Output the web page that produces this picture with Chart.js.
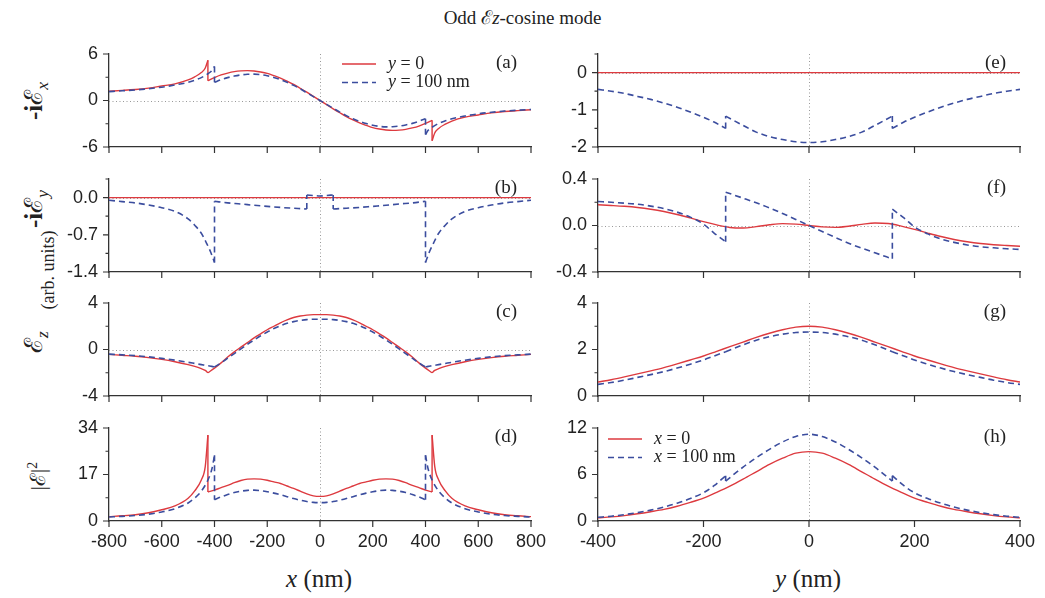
<!DOCTYPE html>
<html>
<head>
<meta charset="utf-8">
<script src="https://cdn.jsdelivr.net/npm/chart.js@4.4.1/dist/chart.umd.min.js"></script>
<style>
  body { margin: 0; background: #fff; }
  #page { position: relative; width: 1045px; height: 598px; overflow: hidden;
          font-family: 'Liberation Serif', 'Times New Roman', serif; color: #222; }
  canvas { position: absolute; }
  .txt { position: absolute; white-space: nowrap; text-align: center; }
  .rot { width: 120px; height: 30px; line-height: 30px; transform: rotate(-90deg); }
  sub { font-size: 70%; font-style: italic; }
</style>
</head>
<body>
<div id="page">
  <div class="txt" style="left:0;width:1045px;top:4px;font-size:19px;">Odd ℰ<i>z</i>-cosine mode</div>
  <div class="txt" style="left:219px;width:200px;top:565px;font-size:25px;"><i>x</i> (nm)</div>
  <div class="txt" style="left:708px;width:200px;top:565px;font-size:25px;"><i>y</i> (nm)</div>
  <div class="txt rot" style="left:-26px;top:86px;font-size:25px;"><b>-i</b>ℰ<sub>x</sub></div>
  <div class="txt rot" style="left:-26px;top:194px;font-size:25px;"><b>-i</b>ℰ<sub>y</sub></div>
  <div class="txt rot" style="left:-12px;top:255px;font-size:18px;">(arb. units)</div>
  <div class="txt rot" style="left:-26px;top:327px;font-size:25px;">ℰ<sub>z</sub></div>
  <div class="txt rot" style="left:-27px;top:461px;font-size:21px;">|ℰ|<sup style="font-size:65%">2</sup></div>
</div>
<script>
// x positions (nm), left column: red jumps at +-425, blue at +-400
const xLeftRed = [-800,-750,-700,-650,-600,-550,-500,-475,-450,-435,-425,
  -425,-400,-375,-350,-325,-300,-275,-250,-225,-200,-175,-150,-125,-100,-75,-50,-25,0,25,50,75,100,125,150,175,200,225,250,275,300,325,350,375,400,425,
  425,435,450,475,500,550,600,650,700,750,800];
const xLeftBlue = [-800,-750,-700,-650,-600,-550,-500,-475,-450,-425,-410,-400,
  -400,-375,-350,-325,-300,-275,-250,-225,-200,-175,-150,-125,-100,-75,-50,-25,0,25,50,75,100,125,150,175,200,225,250,275,300,325,350,375,400,
  400,410,425,450,475,500,550,600,650,700,750,800];
const xLeftBlueB = [-800,-750,-700,-650,-600,-550,-500,-475,-450,-430,-415,-400,
  -400,-350,-300,-250,-200,-150,-100,-50, -50,-25,0,25,50, 50,100,150,200,250,300,350,400,
  400,415,430,450,475,500,550,600,650,700,750,800];
const xLeftLine = [-800, 800];

// y positions (nm), right column: blue jumps at +-158
const yRightRed = [-400,-375,-350,-325,-300,-275,-250,-225,-200,-175,-150,-125,-100,-75,-50,-25,0,
  25,50,75,100,125,150,175,200,225,250,275,300,325,350,375,400];
const yRightBlue = [-400,-375,-350,-325,-300,-275,-250,-225,-200,-180,-158,
  -158,-125,-100,-75,-50,-25,0,25,50,75,100,125,158,
  158,180,200,225,250,275,300,325,350,375,400];
const yRightLine = [-400, 400];

// (a) -iEx
const aRed = [1.2,1.3,1.42,1.6,1.87,2.15,2.65,3.05,3.6,4.2,5.2,
  2.55,2.96,3.3,3.54,3.72,3.82,3.85,3.8,3.68,3.5,3.2,2.9,2.5,2.07,1.58,1.07,0.54,0,-0.54,-1.07,-1.58,-2.07,-2.5,-2.9,-3.2,-3.5,-3.68,-3.8,-3.85,-3.82,-3.72,-3.54,-3.3,-2.96,-2.55,
  -5.2,-4.2,-3.6,-3.05,-2.65,-2.15,-1.87,-1.6,-1.42,-1.3,-1.2];
const aBlue = [1.15,1.25,1.36,1.52,1.72,2.0,2.35,2.62,2.95,3.45,3.85,4.4,
  2.35,2.68,2.95,3.15,3.3,3.38,3.4,3.34,3.2,2.98,2.7,2.35,1.95,1.5,1.0,0.5,0,-0.5,-1.0,-1.5,-1.95,-2.35,-2.7,-2.98,-3.2,-3.34,-3.4,-3.38,-3.3,-3.15,-2.95,-2.68,-2.35,
  -4.4,-3.85,-3.45,-2.95,-2.62,-2.35,-2.0,-1.72,-1.52,-1.36,-1.25,-1.15];
// (b) -iEy
const bRed = [0, 0];
const bBlue = [-0.05,-0.075,-0.1,-0.14,-0.19,-0.26,-0.4,-0.52,-0.67,-0.86,-1.02,-1.22,
  -0.07,-0.1,-0.12,-0.145,-0.165,-0.185,-0.2,-0.215, 0.05,0.04,0.03,0.04,0.05,
  -0.215,-0.2,-0.185,-0.165,-0.145,-0.12,-0.1,-0.07,
  -1.22,-1.02,-0.86,-0.67,-0.52,-0.4,-0.26,-0.19,-0.14,-0.1,-0.075,-0.05];
// (c) Ez
const cRed = [-0.42,-0.5,-0.58,-0.7,-0.85,-1.05,-1.3,-1.45,-1.65,-1.8,-2.0,
  -2.0,-1.6,-1.15,-0.65,-0.2,0.2,0.6,1.0,1.35,1.7,2.0,2.3,2.55,2.75,2.88,2.96,3.0,3.0,3.0,2.96,2.88,2.75,2.55,2.3,2.0,1.7,1.35,1.0,0.6,0.2,-0.2,-0.65,-1.15,-1.6,-2.0,
  -2.0,-1.8,-1.65,-1.45,-1.3,-1.05,-0.85,-0.7,-0.58,-0.5,-0.42];
const cBlue = [-0.4,-0.46,-0.53,-0.63,-0.76,-0.92,-1.1,-1.2,-1.3,-1.4,-1.45,-1.5,
  -1.5,-1.15,-0.75,-0.35,0.05,0.45,0.82,1.18,1.5,1.8,2.05,2.25,2.4,2.5,2.57,2.6,2.6,2.6,2.57,2.5,2.4,2.25,2.05,1.8,1.5,1.18,0.82,0.45,0.05,-0.35,-0.75,-1.15,-1.5,
  -1.5,-1.45,-1.4,-1.3,-1.2,-1.1,-0.92,-0.76,-0.63,-0.53,-0.46,-0.4];
// (d) |E|^2
const dRed = [1.6,1.9,2.3,3.0,4.1,5.5,8.3,11,15,20,31.4,
  10.6,11.3,12.2,13.0,14.0,14.8,15.3,15.4,15.3,14.9,14.3,13.7,12.8,11.9,10.9,9.9,9.2,9.0,9.2,9.9,10.9,11.9,12.8,13.7,14.3,14.9,15.3,15.4,15.3,14.8,14.0,13.0,12.2,11.3,10.6,
  31.4,20,15,11,8.3,5.5,4.1,3.0,2.3,1.9,1.6];
const dBlue = [1.45,1.7,2.0,2.5,3.3,4.5,6.6,8.4,10.9,15,19,24,
  7.8,8.8,9.7,10.4,10.9,11.2,11.3,11.1,10.7,10.2,9.6,8.9,8.2,7.6,7.1,6.8,6.7,6.8,7.1,7.6,8.2,8.9,9.6,10.2,10.7,11.1,11.3,11.2,10.9,10.4,9.7,8.8,7.8,
  24,19,15,10.9,8.4,6.6,4.5,3.3,2.5,2.0,1.7,1.45];
// (e) -iEx along y
const eRed = [0, 0];
const eBlue = [-0.45,-0.5,-0.56,-0.64,-0.72,-0.82,-0.93,-1.06,-1.2,-1.33,-1.5,
  -1.17,-1.42,-1.6,-1.72,-1.8,-1.86,-1.88,-1.86,-1.8,-1.72,-1.6,-1.42,-1.17,
  -1.5,-1.33,-1.2,-1.06,-0.93,-0.82,-0.72,-0.64,-0.56,-0.5,-0.45];
// (f) -iEy along y
const fRed = [0.178,0.172,0.165,0.155,0.14,0.12,0.095,0.065,0.033,0.005,-0.017,-0.022,-0.01,0.006,0.016,0.012,0,
  -0.012,-0.016,-0.006,0.01,0.022,0.017,-0.005,-0.033,-0.065,-0.095,-0.12,-0.14,-0.155,-0.165,-0.172,-0.178];
const fBlue = [0.206,0.2,0.192,0.183,0.167,0.145,0.115,0.072,0.012,-0.065,-0.14,
  0.287,0.235,0.195,0.152,0.103,0.052,0,-0.052,-0.103,-0.152,-0.195,-0.235,-0.287,
  0.14,0.065,-0.012,-0.072,-0.115,-0.145,-0.167,-0.183,-0.192,-0.2,-0.206];
// (g) Ez along y
const gRed = [0.6,0.7,0.82,0.95,1.08,1.22,1.38,1.55,1.72,1.92,2.12,2.32,2.52,2.7,2.85,2.96,3.0,
  2.96,2.85,2.7,2.52,2.32,2.12,1.92,1.72,1.55,1.38,1.22,1.08,0.95,0.82,0.7,0.6];
const gBlue = [0.5,0.58,0.68,0.8,0.92,1.05,1.2,1.37,1.55,1.72,1.9,
  1.9,2.2,2.4,2.55,2.66,2.73,2.75,2.73,2.66,2.55,2.4,2.2,1.9,
  1.9,1.72,1.55,1.37,1.2,1.05,0.92,0.8,0.68,0.58,0.5];
// (h) |E|^2 along y
const hRed = [0.4,0.53,0.7,0.93,1.2,1.5,1.9,2.4,2.95,3.7,4.5,5.4,6.35,7.3,8.1,8.75,8.95,
  8.75,8.1,7.3,6.35,5.4,4.5,3.7,2.95,2.4,1.9,1.5,1.2,0.93,0.7,0.53,0.4];
const hBlue = [0.48,0.62,0.82,1.08,1.4,1.8,2.3,2.9,3.65,4.55,5.85,
  5.15,6.95,8.15,9.25,10.2,10.9,11.2,10.9,10.2,9.25,8.15,6.95,5.15,
  5.85,4.55,3.65,2.9,2.3,1.8,1.4,1.08,0.82,0.62,0.48];

const RED = '#dd3a3f';
const BLUE = '#3b4d9e';
const AXIS = '#333';
const SANS = "'Liberation Sans', Arial, sans-serif";
const SERIF = "'Liberation Serif', 'Times New Roman', serif";
const ROW_TOP = [54, 179, 303, 428];
const COL_LEFT = [109, 598];
const PLOT_W = 422, PLOT_H = 93;

// smooth pieces + straight vertical jumps where an x value repeats
function series(xs, vs, color, dashed) {
  const pts = [], jumps = [];
  for (let i = 0; i < xs.length; i++) {
    if (i > 0 && xs[i] === xs[i - 1]) {
      pts.push({x: xs[i], y: null});
      jumps.push({x: xs[i - 1], y: vs[i - 1]}, {x: xs[i], y: vs[i]}, {x: xs[i], y: null});
    }
    pts.push({x: xs[i], y: vs[i]});
  }
  const style = {borderColor: color, borderWidth: dashed ? 1.6 : 1.4,
    borderDash: dashed ? [6, 4] : [], pointRadius: 0, fill: false};
  return [
    Object.assign({data: pts, cubicInterpolationMode: 'monotone'}, style),
    Object.assign({data: jumps, tension: 0}, style)
  ];
}

const decor = {
  id: 'decor',
  beforeDatasetsDraw(chart, args, o) {
    const {ctx, chartArea: a, scales: {x, y}} = chart;
    ctx.save();
    ctx.strokeStyle = '#999';
    ctx.lineWidth = 1;
    ctx.setLineDash([1, 2.5]);
    ctx.beginPath();
    const x0 = Math.round(x.getPixelForValue(0)) + 0.5;
    ctx.moveTo(x0, a.top); ctx.lineTo(x0, a.bottom);
    if (y.min < 0 && y.max > 0) {
      const y0 = Math.round(y.getPixelForValue(0)) + 0.5;
      ctx.moveTo(a.left, y0); ctx.lineTo(a.right, y0);
    }
    ctx.stroke();
    ctx.restore();
  },
  afterDraw(chart, args, o) {
    const {ctx, chartArea: a, scales: {x, y}} = chart;
    ctx.save();
    ctx.strokeStyle = AXIS;
    ctx.lineWidth = 1.2;
    ctx.beginPath();
    x.ticks.forEach(t => {
      const px = x.getPixelForValue(t.value);
      ctx.moveTo(px, a.bottom); ctx.lineTo(px, a.bottom + 6);
    });
    y.ticks.forEach(t => {
      const py = y.getPixelForValue(t.value);
      const len = isMajor(t.value, o.major) ? 6 : 3.5;
      ctx.moveTo(a.left, py); ctx.lineTo(a.left - len, py);
    });
    ctx.stroke();

    ctx.fillStyle = '#222';
    ctx.font = '19px ' + SERIF;
    ctx.textAlign = 'right';
    ctx.textBaseline = 'middle';
    ctx.fillText('(' + o.tag + ')', a.right - 14, a.top + 9);

    if (o.legend) {
      const L = o.legend;
      L.items.forEach((it, i) => {
        const lx = a.left + L.dx, ly = a.top + L.dy + i * 18.5;
        ctx.strokeStyle = it[2];
        ctx.lineWidth = it[3] ? 1.6 : 1.4;
        ctx.setLineDash(it[3] ? [6, 4] : []);
        ctx.beginPath(); ctx.moveTo(lx, ly); ctx.lineTo(lx + 34, ly); ctx.stroke();
        ctx.setLineDash([]);
        ctx.textAlign = 'left';
        ctx.font = 'italic 18px ' + SERIF;
        ctx.fillText(it[0], lx + 46, ly);
        const w = ctx.measureText(it[0]).width;
        ctx.font = '18px ' + SERIF;
        ctx.fillText(it[1], lx + 46 + w, ly);
      });
    }
    ctx.restore();
  }
};

function isMajor(v, major) {
  const r = v / major;
  return Math.abs(r - Math.round(r)) < 1e-6;
}

const yLegend = {dx: 233, dy: 10, items: [['y', ' = 0', RED, false], ['y', ' = 100 nm', BLUE, true]]};
const xLegend = {dx: 10, dy: 11, items: [['x', ' = 0', RED, false], ['x', ' = 100 nm', BLUE, true]]};

const panels = [
  {tag: 'a', col: 0, row: 0, min: -6, max: 6, step: 3, major: 6, dec: 0, red: [xLeftRed, aRed], blue: [xLeftBlue, aBlue], legend: yLegend},
  {tag: 'b', col: 0, row: 1, min: -1.4, max: 0.35, step: 0.35, major: 0.7, dec: 1, red: [xLeftLine, bRed], blue: [xLeftBlueB, bBlue]},
  {tag: 'c', col: 0, row: 2, min: -4, max: 4, step: 2, major: 4, dec: 0, red: [xLeftRed, cRed], blue: [xLeftBlue, cBlue]},
  {tag: 'd', col: 0, row: 3, min: 0, max: 34, step: 8.5, major: 17, dec: 0, red: [xLeftRed, dRed], blue: [xLeftBlue, dBlue]},
  {tag: 'e', col: 1, row: 0, min: -2, max: 0.5, step: 0.5, major: 1, dec: 0, red: [yRightLine, eRed], blue: [yRightBlue, eBlue]},
  {tag: 'f', col: 1, row: 1, min: -0.4, max: 0.4, step: 0.2, major: 0.4, dec: 1, red: [yRightRed, fRed], blue: [yRightBlue, fBlue]},
  {tag: 'g', col: 1, row: 2, min: 0, max: 4, step: 1, major: 2, dec: 0, red: [yRightRed, gRed], blue: [yRightBlue, gBlue]},
  {tag: 'h', col: 1, row: 3, min: 0, max: 12, step: 3, major: 6, dec: 0, red: [yRightRed, hRed], blue: [yRightBlue, hBlue], legend: xLegend}
];

// keep the plot box where it is: no extra room for overhanging labels
function noPad(s) {
  s.paddingTop = 0; s.paddingBottom = 0; s.paddingLeft = 0; s.paddingRight = 0;
}

const page = document.getElementById('page');
panels.forEach(p => {
  const bottom = p.row === 3;
  const xAxisH = bottom ? 36 : 12;
  const cv = document.createElement('canvas');
  cv.width = 60 + PLOT_W + 30;
  cv.height = 14 + PLOT_H + xAxisH;
  cv.style.left = (COL_LEFT[p.col] - 60) + 'px';
  cv.style.top = (ROW_TOP[p.row] - 14) + 'px';
  page.appendChild(cv);

  new Chart(cv, {
    type: 'line',
    data: {
      datasets: series(p.blue[0], p.blue[1], BLUE, true).concat(series(p.red[0], p.red[1], RED, false))
    },
    plugins: [decor],
    options: {
      responsive: false,
      animation: false,
      events: [],
      layout: {padding: {top: 14, right: 30, left: 0, bottom: 0}},
      plugins: {
        legend: {display: false},
        tooltip: {enabled: false},
        decor: {tag: p.tag, major: p.major, legend: p.legend}
      },
      scales: {
        x: {
          type: 'linear',
          min: p.col ? -400 : -800,
          max: p.col ? 400 : 800,
          grid: {display: false, drawTicks: false},
          border: {display: true, color: AXIS, width: 1.3},
          ticks: {display: bottom, stepSize: 200, autoSkip: false, maxRotation: 0, padding: 10,
                  color: '#222', font: {family: SANS, size: 18}, callback: v => String(v)},
          afterFit: s => { s.height = xAxisH; noPad(s); }
        },
        y: {
          type: 'linear',
          min: p.min,
          max: p.max,
          grid: {display: false, drawTicks: false},
          border: {display: true, color: AXIS, width: 1.3},
          ticks: {stepSize: p.step, autoSkip: false, padding: 11, color: '#222',
                  font: {family: SANS, size: 18},
                  callback: v => isMajor(v, p.major) ? (Math.abs(v) < 1e-9 ? 0 : v).toFixed(p.dec) : ''},
          afterFit: s => { s.width = 60; noPad(s); }
        }
      }
    }
  });
});
</script>
</body>
</html>
